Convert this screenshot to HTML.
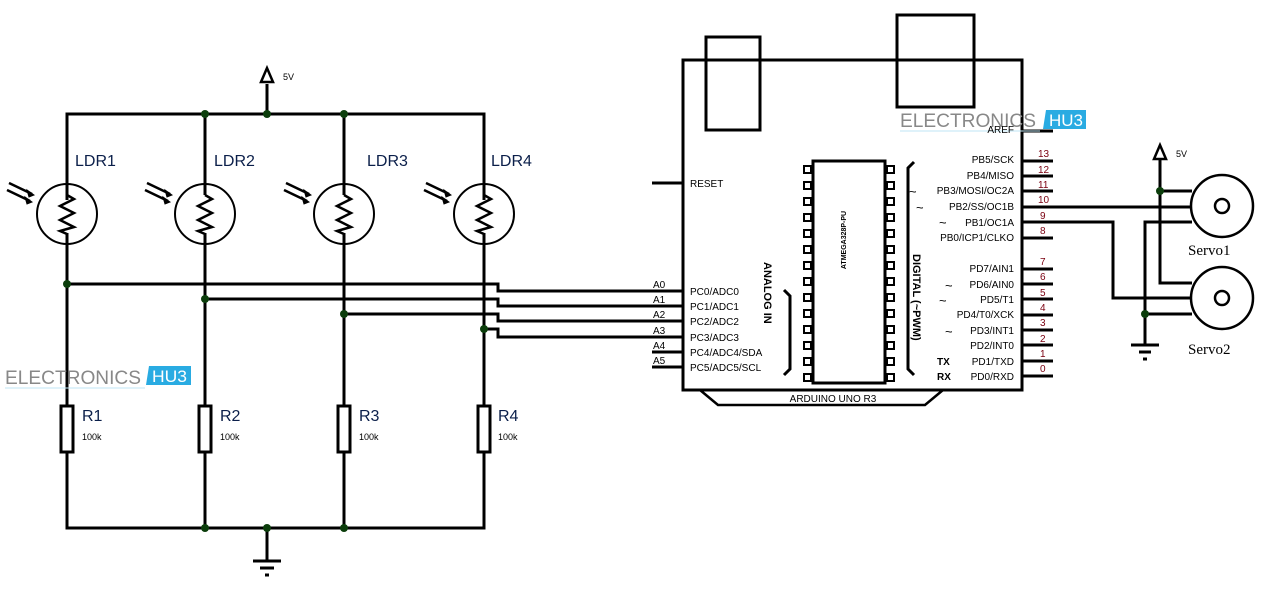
<!DOCTYPE html>
<html><head><meta charset="utf-8"><style>
html,body{margin:0;padding:0;background:#fff;}
svg{display:block;}
text{font-family:"Liberation Sans",sans-serif;}
text.serif{font-family:"Liberation Serif",serif;}
</style></head><body>
<svg id="s" width="1280" height="595" viewBox="0 0 1280 595" xmlns="http://www.w3.org/2000/svg">
<g fill="none" stroke="#000" stroke-width="3">
<polyline points="67,200 67,114 484,114 484,200"/>
<line x1="205" y1="114" x2="205" y2="184"/>
<line x1="344" y1="114" x2="344" y2="184"/>
<line x1="267" y1="114" x2="267" y2="84"/>
<line x1="67" y1="242" x2="67" y2="405"/>
<line x1="205" y1="242" x2="205" y2="405"/>
<line x1="344" y1="242" x2="344" y2="405"/>
<line x1="484" y1="242" x2="484" y2="405"/>
<rect x="61" y="406" width="12" height="46"/>
<rect x="199" y="406" width="12" height="46"/>
<rect x="338" y="406" width="12" height="46"/>
<rect x="478" y="406" width="12" height="46"/>
<polyline points="67,452 67,528 484,528 484,452"/>
<line x1="205" y1="452" x2="205" y2="528"/>
<line x1="344" y1="452" x2="344" y2="528"/>
<line x1="267" y1="528" x2="267" y2="561"/>
<polyline points="67,284 498,284 498,291 683,291"/>
<polyline points="205,299 498,299 498,306 683,306"/>
<polyline points="344,314 498,314 498,321 683,321"/>
<polyline points="484,329 498,329 498,337 683,337"/>
<line x1="652" y1="352" x2="683" y2="352"/>
<line x1="652" y1="367" x2="683" y2="367"/>
<line x1="652" y1="183" x2="683" y2="183"/>
<rect x="683" y="60" width="339" height="330"/>
<rect x="706" y="37" width="54" height="93"/>
<rect x="897" y="15" width="77" height="92"/>
<polyline points="700,390 718,405 925,405 943,390" stroke-width="2.5"/>
<rect x="813" y="161" width="72" height="222"/>
<polyline points="784,290 790,296 790,369 784,375"/>
<polyline points="914,162 908,168 908,369 914,375"/>
<line x1="1022" y1="131" x2="1053" y2="131"/>
<line x1="1022" y1="161" x2="1053" y2="161"/>
<line x1="1022" y1="176" x2="1053" y2="176"/>
<line x1="1022" y1="191" x2="1053" y2="191"/>
<line x1="1022" y1="207" x2="1192" y2="207"/>
<polyline points="1022,222 1113,222 1113,298 1192,298"/>
<line x1="1022" y1="238" x2="1053" y2="238"/>
<line x1="1022" y1="269" x2="1053" y2="269"/>
<line x1="1022" y1="284" x2="1053" y2="284"/>
<line x1="1022" y1="299" x2="1053" y2="299"/>
<line x1="1022" y1="315" x2="1053" y2="315"/>
<line x1="1022" y1="330" x2="1053" y2="330"/>
<line x1="1022" y1="345" x2="1053" y2="345"/>
<line x1="1022" y1="361" x2="1053" y2="361"/>
<line x1="1022" y1="376" x2="1053" y2="376"/>
<polyline points="1160,160 1160,283 1192,283"/>
<line x1="1160" y1="191" x2="1192" y2="191"/>
<polyline points="1192,222 1145,222 1145,345"/>
<line x1="1145" y1="314" x2="1192" y2="314"/>
<line x1="1131" y1="345" x2="1159" y2="345"/>
<line x1="1139" y1="352" x2="1151" y2="352"/>
<line x1="1143" y1="359" x2="1147" y2="359"/>
<circle cx="1222" cy="206" r="31" stroke-width="2.5"/>
<circle cx="1222" cy="206" r="7" stroke-width="2.5"/>
<circle cx="1222" cy="298" r="31" stroke-width="2.5"/>
<circle cx="1222" cy="298" r="7" stroke-width="2.5"/>
<line x1="253" y1="561" x2="281" y2="561"/>
<line x1="260" y1="568" x2="274" y2="568"/>
<line x1="265" y1="575" x2="269" y2="575"/>
<polygon points="267,68 261,82 273,82" stroke-width="2.5"/>
<polygon points="1160,145 1154,159 1166,159" stroke-width="2.5"/>
</g>
<g id="ldrs" fill="none" stroke="#000"></g>
<g id="pins" fill="none" stroke="#000" stroke-width="2"></g>
<g fill="#0b3d0b">
<circle cx="205" cy="114" r="4"/><circle cx="267" cy="114" r="4"/><circle cx="344" cy="114" r="4"/>
<circle cx="67" cy="284" r="4"/><circle cx="205" cy="299" r="4"/><circle cx="344" cy="314" r="4"/><circle cx="484" cy="329" r="4"/>
<circle cx="205" cy="528" r="4"/><circle cx="267" cy="528" r="4"/><circle cx="344" cy="528" r="4"/>
<circle cx="1160" cy="191" r="4"/><circle cx="1145" cy="314" r="4"/>
</g>
<g>
<text x="900" y="127" font-size="19" fill="#888" textLength="136" lengthAdjust="spacingAndGlyphs">ELECTRONICS</text>
<polygon points="1046,110 1086,110 1086,129 1043,129" fill="#29abe2"/>
<text x="1049" y="126" font-size="17" fill="#fff" textLength="34" lengthAdjust="spacingAndGlyphs">HU3</text>
<line x1="900" y1="131" x2="1040" y2="131" stroke="#bfe6f5" stroke-width="1"/>
<text x="5" y="384" font-size="19" fill="#888" textLength="136" lengthAdjust="spacingAndGlyphs">ELECTRONICS</text>
<polygon points="149,366 191,366 191,385 146,385" fill="#29abe2"/>
<text x="152" y="382" font-size="17" fill="#fff" textLength="35" lengthAdjust="spacingAndGlyphs">HU3</text>
<line x1="5" y1="388" x2="145" y2="388" stroke="#bfe6f5" stroke-width="1"/>
</g>
<g font-size="16" fill="#0b1f4a">
<text x="75" y="166">LDR1</text><text x="214" y="166">LDR2</text><text x="367" y="166">LDR3</text><text x="491" y="166">LDR4</text>
<text x="82" y="421">R1</text><text x="220" y="421">R2</text><text x="359" y="421">R3</text><text x="498" y="421">R4</text>
</g>
<g font-size="9" fill="#000">
<text x="82" y="440">100k</text><text x="220" y="440">100k</text><text x="359" y="440">100k</text><text x="498" y="440">100k</text>
<text x="283" y="80">5V</text><text x="1176" y="157">5V</text>
</g>
<g font-size="10" fill="#000">
<text x="690" y="187">RESET</text>
<text x="690" y="295">PC0/ADC0</text><text x="690" y="310">PC1/ADC1</text><text x="690" y="325">PC2/ADC2</text>
<text x="690" y="341">PC3/ADC3</text><text x="690" y="356">PC4/ADC4/SDA</text><text x="690" y="371">PC5/ADC5/SCL</text>
<text x="653" y="288">A0</text><text x="653" y="303">A1</text><text x="653" y="318">A2</text><text x="653" y="334">A3</text><text x="653" y="349">A4</text><text x="653" y="364">A5</text>
<text x="833" y="402" text-anchor="middle">ARDUINO UNO R3</text>
</g>
<g font-size="10" fill="#000" text-anchor="end">
<text x="1014" y="133">AREF</text>
<text x="1014" y="163">PB5/SCK</text><text x="1014" y="179">PB4/MISO</text><text x="1014" y="194">PB3/MOSI/OC2A</text>
<text x="1014" y="210">PB2/SS/OC1B</text><text x="1014" y="226">PB1/OC1A</text><text x="1014" y="241">PB0/ICP1/CLKO</text>
<text x="1014" y="272">PD7/AIN1</text><text x="1014" y="288">PD6/AIN0</text><text x="1014" y="303">PD5/T1</text>
<text x="1014" y="318">PD4/T0/XCK</text><text x="1014" y="334">PD3/INT1</text><text x="1014" y="349">PD2/INT0</text>
<text x="1014" y="365">PD1/TXD</text><text x="1014" y="380">PD0/RXD</text>
</g>
<g font-size="13" fill="#000">
<text x="909" y="196">~</text><text x="916" y="212">~</text><text x="939" y="227">~</text>
<text x="945" y="290">~</text><text x="939" y="305">~</text><text x="945" y="336">~</text>
</g>
<g font-size="10" fill="#000">
<text x="937" y="365" font-weight="bold">TX</text><text x="937" y="380" font-weight="bold">RX</text>
</g>
<g font-size="10" fill="#7a0010">
<text x="1038" y="157">13</text><text x="1038" y="173">12</text><text x="1038" y="188">11</text><text x="1038" y="203">10</text>
<text x="1040" y="219">9</text><text x="1040" y="234">8</text><text x="1040" y="265">7</text><text x="1040" y="280">6</text>
<text x="1040" y="296">5</text><text x="1040" y="311">4</text><text x="1040" y="326">3</text><text x="1040" y="342">2</text>
<text x="1040" y="357">1</text><text x="1040" y="372">0</text>
</g>
<text transform="translate(764,262) rotate(90)" font-size="11" font-weight="bold">ANALOG IN</text>
<text transform="translate(913,254) rotate(90)" font-size="11" font-weight="bold">DIGITAL (~PWM)</text>
<text transform="translate(846,240) rotate(-90)" font-size="7" font-weight="bold" text-anchor="middle">ATMEGA328P-PU</text>
<text class="serif" x="1188" y="255" font-size="15">Servo1</text>
<text class="serif" x="1188" y="354" font-size="15">Servo2</text>
</svg>
<script>
var ns="http://www.w3.org/2000/svg";
function el(p,t,a){var e=document.createElementNS(ns,t);for(var k in a)e.setAttribute(k,a[k]);p.appendChild(e);return e;}
var L=document.getElementById('ldrs');
[67,205,344,484].forEach(function(x){
 el(L,'line',{x1:x,y1:184,x2:x,y2:195,'stroke-width':3});
 el(L,'line',{x1:x,y1:233,x2:x,y2:243,'stroke-width':3});
 el(L,'circle',{cx:x,cy:214,r:30,'stroke-width':2});
 el(L,'polyline',{points:[x,195,x+7,199,x-7,206,x+7,213,x-7,220,x+7,227,x-7,231,x,234].join(' '),'stroke-width':2.5});
 el(L,'line',{x1:x-58,y1:183,x2:x-35,y2:194,'stroke-width':2.5});
 el(L,'line',{x1:x-60,y1:190,x2:x-37,y2:201,'stroke-width':2.5});
 el(L,'polygon',{points:[x-33,195,x-40,190,x-38,197].join(' '),fill:'#000','stroke-width':1});
 el(L,'polygon',{points:[x-35,202,x-42,197,x-40,204].join(' '),fill:'#000','stroke-width':1});
});
var P=document.getElementById('pins');
for(var i=0;i<14;i++){var y=166+16*i;
 el(P,'rect',{x:804,y:y,width:7,height:7});
 el(P,'rect',{x:887,y:y,width:7,height:7});}
</script>
</body></html>
